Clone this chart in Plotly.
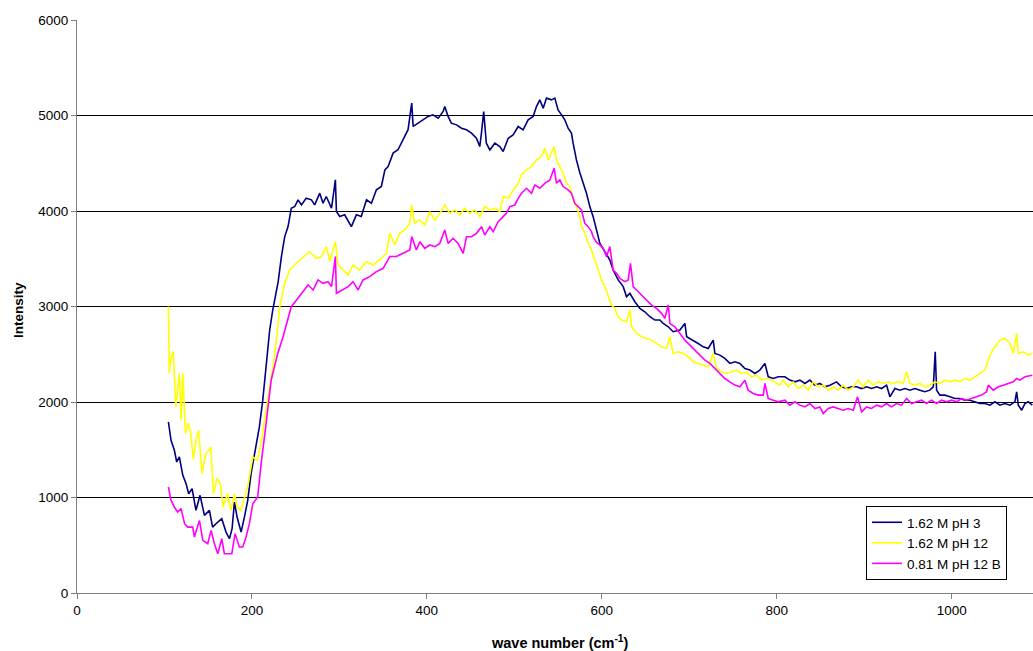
import plotly.graph_objects as go

# ---- data ----
blue_x = [104.5, 107.5, 111.3, 114, 117, 121, 124.7, 127.7, 131.6, 136, 140.7, 145.7, 151.4, 155, 161, 165.5,
          170.4, 174.3, 177.3, 180, 183, 187.6, 191.4, 195.2, 199, 203, 208.5, 212.4, 218, 220.3, 223.8, 227,
          230, 233.7, 237.5, 241.3, 245, 249, 252.7, 256.6, 262, 268, 271.8, 277.5, 281.3, 285, 291, 295.4,
          296.6, 300.4, 306, 313.7, 319.4, 325, 331, 336.6, 342.3, 348, 352, 355.7, 361.4, 367, 372.8, 378.5,
          382.7, 384.3, 390, 395.7, 401.4, 407, 413, 418.6, 420.5, 424.3, 428, 434, 439.6, 445.3, 451, 456.7,
          460.5, 462.4, 465, 468, 472, 477.7, 483.4, 487.2, 493, 498.6, 504.4, 510, 515.8, 521.5, 525.3, 529.1,
          533, 536.8, 542.5, 546.3, 550, 554, 557.7, 561.5, 565.3, 567.2, 571, 574.9, 578.7, 582.5, 586.3,
          590.1, 594, 597.8, 603.5, 609.2, 613, 618.7, 624.5, 628.3, 632.1, 637.8, 643.5, 649.2, 655, 660.7,
          666.4, 670.2, 676, 681.6, 689.3, 695, 697, 704.5, 710.2, 716, 721.7, 727.4, 729.3, 735, 740.7, 746.4,
          752.2, 757.9, 763.6, 769.3, 775, 780.7, 786.5, 790.3, 796, 801.7, 809.3, 815, 820.8, 826.5, 832.2,
          837.9, 843.6, 849.3, 855, 860.8, 868.4, 874.1, 879.8, 885.6, 891.3, 897, 902.7, 908.4, 914.2, 919.9,
          925.6, 929.4, 935.1, 940.8, 946.6, 952.3, 958, 963.7, 969.4, 975.1, 979, 981.2, 982.8, 986.6, 992.3,
          998, 1003.7, 1009.5, 1015.2, 1020.9, 1026.6, 1032.3, 1038, 1043.8, 1049.5, 1055.2, 1060.9, 1066.6,
          1072.3, 1074.3, 1076.2, 1080, 1083.8, 1087.6, 1092.2]
blue_y = [1792, 1599, 1494, 1372, 1425, 1232, 1145, 1040, 1093, 865, 1023, 813, 865, 690, 743, 778,
          638, 568, 673, 953, 795, 638, 795, 970, 1250, 1460, 1739, 2019, 2508, 2754, 2962, 3100,
          3260, 3523, 3732, 3837, 4029, 4047, 4117, 4064, 4134, 4117, 4064, 4187, 4082, 4152, 4029, 4326,
          3995, 3942, 3960, 3837, 3960, 3942, 4117, 4082, 4222, 4257, 4431, 4466, 4606, 4641, 4746, 4851,
          5130, 4886, 4921, 4955, 4990, 5007, 4972, 5042, 5094, 4990, 4920, 4902, 4867, 4850, 4815, 4762,
          4675, 4815, 5042, 4710, 4640, 4710, 4675, 4623, 4762, 4797, 4885, 4850, 4955, 4990, 5094, 5164,
          5077, 5182, 5164, 5182, 5059, 5007, 4955, 4867, 4815, 4710, 4535, 4400, 4300, 4186, 4046,
          3941, 3801, 3661, 3575, 3487, 3382, 3278, 3208, 3103, 3138, 3050, 2980, 2945, 2893, 2858,
          2858, 2823, 2788, 2736, 2753, 2823, 2683, 2648, 2613, 2578, 2561, 2648, 2509, 2491, 2456, 2404,
          2421, 2404, 2351, 2334, 2299, 2334, 2404, 2264, 2246, 2264, 2264, 2229, 2211, 2229, 2194,
          2229, 2176, 2194, 2159, 2176, 2211, 2159, 2141, 2159, 2159, 2141, 2159, 2141, 2159, 2141,
          2176, 2054, 2141, 2124, 2141, 2124, 2141, 2124, 2107, 2124, 2159, 2526, 2124, 2072, 2072,
          2054, 2037, 2037, 2019, 2019, 2002, 1984, 1984, 1967, 2002, 1967, 1984, 1967,
          2002, 2107, 1967, 1914, 1984, 2002, 1967]

yellow_x = [104.5, 105.5, 107, 110, 113, 117, 119, 121, 124, 127, 130, 133, 136, 139, 143, 147, 153, 156, 160,
            164, 167, 172, 176, 180, 183, 187, 190, 195, 201, 206, 210, 214.3, 220, 225.7, 229.5, 231.8, 237.5,
            243, 250.8, 262, 266, 273.7, 279.4, 285, 289, 295.4, 298.5, 304, 310, 315.6, 323, 331, 338.5, 346,
            353.8, 357.6, 363.3, 369, 374.7, 380.5, 382.7, 386, 392, 397.6, 403.3, 409, 414.8, 420.5, 426.2,
            432, 437.6, 443.4, 449, 454.8, 460.5, 466.2, 472, 477.7, 483.4, 487.2, 493, 498.6, 504.4, 508.2,
            514, 519.6, 525.3, 531, 534.8, 538.7, 542.5, 545.5, 548.2, 552, 555.8, 559.6, 563.4, 567.2, 571,
            574.9, 577, 580.6, 584.4, 588.2, 592, 595.9, 599.7, 603.5, 607.3, 611.1, 615, 618.7, 622.5, 628.3,
            632.1, 634, 639.7, 645.4, 651.1, 656.9, 662.6, 668.3, 674, 677.8, 681.6, 687.4, 693.1, 698.8,
            704.5, 710.2, 716, 721.7, 727.4, 731.2, 737, 742.6, 748.3, 754, 759.8, 765.5, 771.2, 777, 782.7,
            788.4, 794.1, 799.8, 803.6, 807.4, 813.1, 818.8, 824.6, 830.3, 836, 841.7, 847.4, 853.2, 858.9,
            864.6, 870.3, 876, 881.7, 887.5, 893.2, 898.9, 904.6, 910.3, 916, 921.8, 927.5, 933.2, 938.9,
            944.6, 948.5, 952.3, 958, 963.7, 969.4, 975.1, 980.9, 986.6, 992.3, 998, 1003.7, 1009.5, 1015.2,
            1020.9, 1026.6, 1032.3, 1038, 1041.8, 1045.7, 1049.5, 1055.2, 1060.9, 1066.6, 1070.4, 1074.3,
            1076.2, 1081.9, 1087.6, 1092.2]
yellow_y = [3000, 2300, 2450, 2530, 1950, 2300, 1810, 2300, 1670, 1780, 1680, 1400, 1600, 1704, 1250, 1450, 1530, 1040, 1200,
            1145, 900, 1040, 866, 1040, 900, 866, 950, 1110, 1425, 1390, 1550, 1809, 2124, 2473, 2788, 3000, 3243,
            3383, 3453, 3540, 3575, 3505, 3522, 3627, 3470, 3680, 3435, 3383, 3330, 3435, 3383, 3470, 3435, 3488,
            3557, 3767, 3645, 3767, 3802, 3872, 4064, 3872, 3906, 3854, 3993, 3906, 3976, 4063, 3976,
            4011, 3958, 4028, 3976, 4011, 3941, 4046, 4011, 4028, 3993, 4151, 4133, 4221, 4290, 4378,
            4430, 4465, 4535, 4570, 4658, 4535, 4623, 4675, 4535, 4465, 4395, 4290, 4256, 4116, 4046,
            3941, 3837, 3767, 3662, 3592, 3487, 3382, 3278, 3208, 3120, 3015, 2980, 2893, 2858, 2841,
            2963, 2788, 2718, 2683, 2666, 2648, 2613, 2578, 2561, 2683, 2509, 2526, 2509, 2474,
            2421, 2404, 2386, 2369, 2509, 2351, 2316, 2299, 2316, 2334, 2299, 2316, 2264, 2281, 2229,
            2246, 2229, 2194, 2176, 2229, 2159, 2211, 2141, 2176, 2124, 2211, 2159, 2176, 2124,
            2159, 2124, 2176, 2124, 2159, 2229, 2159, 2229, 2176, 2211, 2194, 2211, 2194, 2211,
            2194, 2316, 2194, 2176, 2194, 2159, 2176, 2211, 2194, 2229, 2211, 2229, 2211, 2246,
            2229, 2264, 2299, 2334, 2439, 2526, 2578, 2648, 2666, 2613, 2508, 2718,
            2508, 2526, 2491, 2508]

magenta_x = [104.5, 107.5, 111.3, 115, 119, 123, 126.6, 132.3, 134.2, 140, 143.8, 149.5, 153.3, 157.1, 161, 165.5,
             168.5, 174.3, 177, 180.7, 185.7, 189.5, 193.3, 197.1, 201, 206.6, 210.5, 216.2, 222, 225.7, 229.5,
             235.6, 241.3, 245, 251, 256.6, 264.2, 270, 275.6, 281.3, 287, 291, 295.4, 296.6, 304, 310, 315.6,
             321.4, 327, 334.7, 342.3, 350, 357.6, 365.2, 372.8, 380.5, 382.7, 388, 392, 397.6, 403.3, 409,
             414.8, 420.5, 424.3, 430, 435.7, 441.5, 445.3, 451, 456.7, 462.4, 466.2, 472, 475.8, 481.5, 487.2,
             491, 494.8, 500.5, 504.4, 508.2, 514, 519.6, 523.4, 529.1, 534.8, 540.6, 545.5, 548.2, 552, 555.8,
             561.5, 565.3, 569.1, 573, 576.8, 580.6, 584.4, 588.2, 590.1, 594, 597.8, 601.6, 605.4, 609.2, 613,
             616.8, 620.6, 626.4, 630.2, 632.8, 635.9, 639.7, 645.4, 651.1, 656.9, 662.6, 668.3, 672.1, 676,
             677.8, 683.5, 689.3, 695, 700.7, 706.4, 712.1, 717.9, 723.6, 729.3, 735, 740.7, 746.4, 752.2,
             757.9, 763.6, 767.4, 773.1, 778.8, 784.6, 786.5, 790.3, 796, 801.7, 809.3, 815, 820.8, 826.5,
             832.2, 837.9, 843.6, 849.3, 853.2, 858.9, 864.6, 870.3, 876, 881.7, 887.5, 892.4, 897, 902.7,
             908.4, 914.2, 919.9, 925.6, 931.3, 937, 942.7, 948.5, 954.2, 959.9, 965.6, 971.3, 977, 982.8,
             988.5, 994.2, 999.9, 1005.6, 1011.4, 1017.1, 1022.8, 1028.5, 1034.2, 1040, 1041.8, 1047.6, 1053.3,
             1059, 1064.7, 1070.4, 1074.3, 1078.1, 1083.8, 1089.5, 1092.2]
magenta_y = [1110, 970, 900, 848, 883, 726, 690, 690, 586, 760, 551, 516, 656, 516, 411, 568,
             411, 411, 411, 621, 481, 481, 586, 726, 935, 1005, 1355, 1774, 2228, 2368, 2508,
             2684, 2893, 2998, 3068, 3138, 3225, 3173, 3278, 3243, 3260, 3208, 3523, 3138, 3173, 3208, 3260,
             3173, 3278, 3313, 3365, 3400, 3523, 3523, 3557, 3592, 3732, 3592, 3679, 3609, 3644, 3626,
             3661, 3801, 3661, 3714, 3661, 3557, 3731, 3731, 3766, 3836, 3749, 3836, 3784, 3889, 3941,
             3976, 4046, 4063, 4133, 4186, 4238, 4186, 4273, 4238, 4290, 4325, 4448, 4290, 4325, 4256,
             4221, 4186, 4081, 4046, 4011, 3871, 3836, 3784, 3732, 3670, 3645, 3610, 3522, 3627, 3382,
             3347, 3295, 3260, 3278, 3452, 3208, 3173, 3120, 3068, 3015, 2980, 2928, 2876, 3015,
             2823, 2788, 2718, 2648, 2596, 2543, 2491, 2439, 2404, 2351, 2299, 2246, 2211, 2177,
             2159, 2229, 2124, 2089, 2072, 2072, 2194, 2037, 2019, 2002, 2019, 1967, 2002, 1967,
             1949, 1984, 1932, 1949, 1879, 1932, 1949, 1932, 1914, 1932, 1914, 2054, 1897, 1949,
             1932, 1967, 1949, 1984, 1949, 1984, 1967, 2037, 1984, 2002, 2019, 1984, 2019, 1984,
             2019, 2002, 2019, 2002, 2037, 2019, 2037, 2054, 2072, 2107, 2176, 2124, 2159,
             2176, 2194, 2211, 2246, 2229, 2264, 2281, 2281]

series_names = ["1.62 M pH 3", "1.62 M pH 12", "0.81 M pH 12 B"]
y_ticks = [0, 1000, 2000, 3000, 4000, 5000, 6000]
x_ticks = [0, 200, 400, 600, 800, 1000]
x_title = "<b>wave number (cm<sup>-1</sup>)</b>"
y_title = "<b>Intensity</b>"

FONT = "Liberation Sans, Arial, sans-serif"
W, H = 1033, 651
ML, MR, MT, MB = 77, 0, 20, 58

fig = go.Figure()
for name, xs, ys, col in [
    (series_names[0], blue_x, blue_y, "#000080"),
    (series_names[1], yellow_x, yellow_y, "#FFFF00"),
    (series_names[2], magenta_x, magenta_y, "#FF00FF"),
]:
    fig.add_trace(go.Scatter(x=xs, y=ys, mode="lines", name=name,
                             line=dict(color=col, width=1.6)))

plot_w = W - ML - MR
plot_h = H - MT - MB

fig.update_layout(
    width=W, height=H,
    margin=dict(l=ML, r=MR, t=MT, b=MB, autoexpand=False),
    paper_bgcolor="white", plot_bgcolor="white",
    font=dict(family=FONT, size=13, color="black"),
    showlegend=True,
    legend=dict(x=(866 - ML) / plot_w, y=(H - MB - 506) / plot_h, xanchor="left", yanchor="top",
                bgcolor="white", bordercolor="black", borderwidth=1,
                font=dict(family=FONT, size=13.5, color="black"),
                tracegroupgap=0, itemwidth=30),
    xaxis=dict(range=[0, 1093], tickvals=x_ticks, showgrid=False, zeroline=False, automargin=False,
               showline=True, linecolor="#808080", linewidth=1,
               ticks="outside", ticklen=5, tickcolor="#808080",
               tickfont=dict(family=FONT, size=13.5)),
    yaxis=dict(range=[0, 6000], tickvals=y_ticks, showgrid=True, gridcolor="black", gridwidth=1,
               zeroline=False, automargin=False, showline=True, linecolor="#808080", linewidth=1,
               ticks="outside", ticklen=5, tickcolor="#808080",
               tickfont=dict(family=FONT, size=13.5)),
    annotations=[
        dict(text=x_title, xref="paper", yref="paper", x=(560 - ML) / plot_w, y=-(642 - (H - MB)) / plot_h,
             xanchor="center", yanchor="middle", showarrow=False, font=dict(family=FONT, size=14.5)),
        dict(text=y_title, xref="paper", yref="paper", x=-(ML - 18) / plot_w, y=(H - MB - 310) / plot_h,
             xanchor="center", yanchor="middle", textangle=-90, showarrow=False,
             font=dict(family=FONT, size=13.5)),
    ],
)

fig.write_html("out.html", config={"displayModeBar": False},
               post_script="document.body.style.margin='0';document.body.style.padding='0';"
                           "document.documentElement.style.overflow='hidden';")
